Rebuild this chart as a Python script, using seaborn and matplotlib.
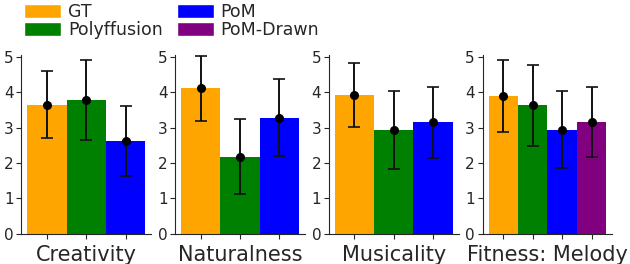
import pandas as pd
import seaborn as sns
import matplotlib
matplotlib.use("Agg")
import matplotlib.pyplot as plt
from matplotlib.patches import Patch

# --- data ---
metrics = ["Creativity", "Naturalness", "Musicality", "Fitness: Melody"]
models = ["GT", "Polyffusion", "PoM", "PoM-Drawn"]
colors = {"GT": "orange", "Polyffusion": "green", "PoM": "blue", "PoM-Drawn": "purple"}

# models shown in each panel
panel_models = [
    ["GT", "Polyffusion", "PoM"],
    ["GT", "Polyffusion", "PoM"],
    ["GT", "Polyffusion", "PoM"],
    ["GT", "Polyffusion", "PoM", "PoM-Drawn"],
]
means = [
    [3.65, 3.79, 2.63],
    [4.11, 2.18, 3.28],
    [3.91, 2.94, 3.15],
    [3.89, 3.63, 2.94, 3.16],
]
stds = [
    [0.95, 1.13, 0.99],
    [0.92, 1.06, 1.08],
    [0.90, 1.10, 1.00],
    [1.02, 1.14, 1.09, 0.99],
]

sns.set_style("ticks")
plt.rcParams["font.family"] = ["DejaVu Sans"]

fig, axes = plt.subplots(1, 4, figsize=(6.3, 2.64), dpi=100)
fig.subplots_adjust(left=0.034, right=0.972, bottom=0.114, top=0.792, wspace=0.185)

for ax, metric, mods, mu, sd in zip(axes, metrics, panel_models, means, stds):
    df = pd.DataFrame({"model": mods, "score": mu, "std": sd})
    sns.barplot(data=df, x="model", y="score", hue="model", palette=colors,
                width=1.0, legend=False, ax=ax, errorbar=None, saturation=1,
                linewidth=0, edgecolor="none")
    ax.errorbar(range(len(mods)), df["score"], yerr=df["std"], fmt="o",
                color="black", ecolor="#111111", markersize=5.5,
                elinewidth=1.4, capsize=4.5, capthick=1.2)
    ax.set_ylim(0, 5.05)
    ax.set_yticks([0, 1, 2, 3, 4, 5])
    ax.set_xticklabels([])
    ax.set_xlabel(metric, fontsize=15, labelpad=1)
    ax.set_ylabel("")
    ax.tick_params(axis="y", labelsize=11, pad=2)
    sns.despine(ax=ax)

handles = [Patch(facecolor=colors[m], label=m) for m in models]
fig.legend(handles=handles, loc="upper left", bbox_to_anchor=(0.036, 0.995),
           ncol=2, frameon=False, fontsize=12.5, handlelength=2.1,
           handleheight=0.85, handletextpad=0.4, labelspacing=0.0,
           columnspacing=0.85, borderpad=0.1, borderaxespad=0)

plt.savefig("out.png", dpi=100)
plt.close()
